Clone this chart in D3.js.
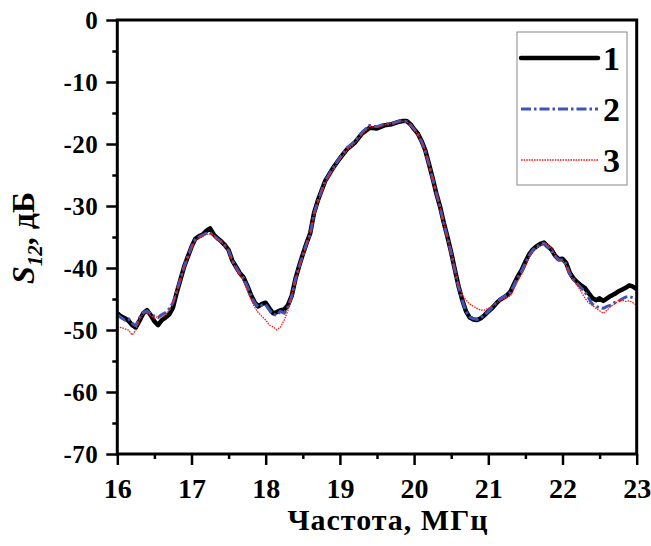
<!DOCTYPE html>
<html>
<head>
<meta charset="utf-8">
<script src="https://cdn.jsdelivr.net/npm/d3@7"></script>
<style>
  body { margin: 0; background: #fff; }
  text { font-family: "Palatino Linotype", "Book Antiqua", "Liberation Serif", serif; font-weight: bold; }
</style>
</head>
<body>
<div id="chart"></div>
<script>
var width = 651, height = 546;
var plotLeft = 117.3, plotRight = 636.7, plotTop = 20, plotBottom = 454;

// frequency grid, MHz
var freq = [16.00,16.05,16.10,16.15,16.20,16.25,16.30,16.35,16.40,16.45,16.50,16.55,16.60,16.65,16.70,16.75,16.80,16.85,16.90,16.95,
  17.00,17.05,17.10,17.15,17.20,17.25,17.30,17.35,17.40,17.45,17.50,17.55,17.60,17.65,17.70,17.75,17.80,17.85,17.90,17.95,
  18.00,18.05,18.10,18.15,18.20,18.25,18.30,18.35,18.40,18.45,18.50,18.55,18.60,18.65,18.70,18.80,18.90,19.00,19.10,19.20,
  19.30,19.40,19.50,19.60,19.70,19.80,19.85,19.90,19.95,20.00,20.05,20.10,20.15,20.20,20.25,20.30,20.35,20.40,20.45,20.50,
  20.55,20.60,20.65,20.70,20.75,20.80,20.85,20.90,20.95,21.00,21.05,21.10,21.15,21.20,21.25,21.30,21.35,21.40,21.45,21.50,
  21.55,21.60,21.65,21.70,21.75,21.80,21.85,21.90,21.95,22.00,22.05,22.10,22.15,22.20,22.25,22.30,22.35,22.40,22.45,22.50,
  22.55,22.60,22.65,22.70,22.75,22.80,22.85,22.90,22.95,23.00];

// S12, dB
var s1 = [-47.3,-47.8,-48.1,-48.5,-49.2,-49.6,-48.5,-47.3,-46.8,-47.6,-48.6,-49.2,-48.4,-48.0,-47.5,-46.4,-44.0,-41.9,-39.8,-38.2,
  -36.6,-35.3,-34.9,-34.6,-34.0,-33.6,-34.6,-35.2,-35.7,-36.3,-37.1,-38.8,-39.8,-40.8,-41.5,-42.8,-44.3,-45.5,-46.2,-45.8,
  -45.6,-46.5,-47.3,-47.1,-46.8,-46.7,-46.0,-44.5,-41.8,-39.7,-37.8,-36.0,-34.4,-31.2,-29.2,-26.0,-24.0,-22.3,-20.8,-19.8,
  -18.3,-17.4,-17.5,-17.0,-16.8,-16.4,-16.3,-16.3,-16.8,-17.6,-18.3,-19.5,-21.0,-23.2,-25.5,-28.0,-30.1,-32.7,-35.0,-37.5,
  -40.3,-43.0,-45.2,-47.0,-48.0,-48.3,-48.4,-48.1,-47.6,-47.0,-46.5,-45.8,-45.2,-44.8,-44.4,-43.8,-42.5,-41.3,-40.3,-39.0,
  -37.8,-37.0,-36.5,-36.1,-35.9,-36.5,-37.0,-38.0,-38.6,-38.5,-39.2,-40.8,-41.7,-42.3,-42.8,-43.2,-44.0,-44.8,-45.2,-44.9,
  -45.3,-44.9,-44.5,-44.2,-43.8,-43.5,-43.2,-42.8,-43.0,-43.4];

var s2 = [-47.5,-48.0,-48.4,-48.2,-48.9,-49.3,-48.0,-47.2,-46.9,-47.4,-47.8,-48.0,-47.5,-47.2,-46.6,-45.6,-43.8,-41.8,-39.8,-38.2,
  -36.6,-35.4,-35.0,-34.7,-34.4,-34.3,-34.8,-35.3,-35.8,-36.4,-37.2,-38.8,-39.9,-40.9,-41.6,-42.9,-44.4,-45.6,-46.3,-46.0,
  -45.9,-46.8,-47.5,-47.6,-47.0,-47.3,-46.3,-44.6,-41.9,-39.8,-37.9,-36.1,-34.5,-31.3,-29.3,-26.0,-24.0,-22.2,-20.6,-19.6,
  -18.1,-17.0,-17.2,-16.8,-16.7,-16.3,-16.3,-16.4,-16.9,-17.6,-18.4,-19.6,-21.1,-23.3,-25.6,-28.0,-30.2,-32.8,-35.1,-37.6,
  -40.4,-43.1,-45.3,-47.0,-47.9,-48.2,-48.3,-48.0,-47.6,-47.0,-46.4,-45.7,-45.1,-44.7,-44.4,-43.9,-42.7,-41.5,-40.5,-39.2,
  -38.0,-37.1,-36.6,-36.2,-36.0,-36.6,-37.2,-38.1,-38.7,-38.7,-39.4,-41.0,-41.9,-42.6,-43.2,-43.8,-44.8,-45.8,-46.2,-46.4,
  -46.5,-46.2,-46.0,-45.6,-45.4,-45.0,-44.7,-44.6,-44.8,-45.0];

var s3 = [-49.5,-49.6,-49.8,-50.0,-50.8,-50.0,-48.3,-47.3,-47.2,-47.7,-48.1,-47.8,-47.8,-47.6,-46.8,-45.5,-44.0,-42.0,-40.0,-38.4,
  -36.8,-35.5,-35.1,-34.8,-34.6,-34.5,-34.7,-35.3,-35.8,-36.4,-37.3,-38.9,-40.0,-41.0,-42.0,-43.5,-45.0,-46.3,-47.2,-47.8,
  -48.4,-49.2,-49.5,-50.0,-49.5,-48.4,-46.8,-44.5,-42.0,-40.0,-38.0,-36.2,-34.6,-31.5,-29.5,-26.3,-24.3,-22.5,-21.0,-19.9,
  -18.4,-17.2,-17.3,-16.9,-16.7,-16.4,-16.3,-16.4,-16.9,-17.6,-18.4,-19.6,-21.1,-23.3,-25.6,-28.0,-30.2,-32.8,-35.1,-37.6,
  -40.3,-42.8,-44.3,-45.2,-45.8,-46.2,-46.5,-46.8,-46.8,-46.5,-46.2,-45.6,-45.4,-45.0,-44.8,-44.5,-43.3,-42.0,-41.0,-39.8,
  -38.3,-37.4,-36.8,-36.4,-36.0,-36.2,-36.8,-37.8,-38.7,-38.8,-39.5,-41.0,-42.0,-42.8,-43.8,-44.8,-45.6,-46.0,-46.5,-46.9,
  -47.3,-46.8,-46.2,-45.8,-45.3,-45.2,-45.4,-45.3,-45.6,-46.0];

var xTicks = [16, 17, 18, 19, 20, 21, 22, 23];
var yTicks = [0, -10, -20, -30, -40, -50, -60, -70];
var legendLabels = ['1', '2', '3'];

var svg = d3.select('#chart')
    .append('svg')
    .attr('width', width + 'px')
    .attr('height', height + 'px');

var xScale = d3.scaleLinear().domain([16, 23]).range([plotLeft, plotRight]);
var yScale = d3.scaleLinear().domain([-70, 0]).range([plotBottom, plotTop]);

// curves
var series = [
    {values: s1, color: '#000', width: 4.5, dash: null},
    {values: s2, color: '#3d55b8', width: 3, dash: '10,3,2.5,3'},
    {values: s3, color: '#ff1a1a', width: 1.3, dash: '1.6,1'}
];

var line = d3.line()
    .x(function(d){ return xScale(d[0]); })
    .y(function(d){ return yScale(d[1]); });

series.forEach(function(s){
    svg.append('path')
        .datum(freq.map(function(f, i){ return [f, s.values[i]]; }))
        .attr('d', line)
        .attr('fill', 'none')
        .attr('stroke', s.color)
        .attr('stroke-width', s.width)
        .attr('stroke-linejoin', 'round')
        .attr('stroke-dasharray', s.dash);
});

// axes
var xAxis = d3.axisBottom(xScale).tickValues(xTicks).tickSize(11).tickPadding(12).tickFormat(d3.format('d'));
var yAxis = d3.axisLeft(yScale).tickValues(yTicks).tickSize(11).tickPadding(8).tickFormat(function(d){ return d === 0 ? '0' : '-' + Math.abs(d); });
var xMinor = d3.axisBottom(xScale).tickValues(d3.range(16.5, 23, 1)).tickSize(5).tickFormat('');
var yMinor = d3.axisLeft(yScale).tickValues(d3.range(-65, 0, 10)).tickSize(5).tickFormat('');

var gx = svg.append('g').attr('transform', 'translate(0,' + plotBottom + ')').call(xAxis);
svg.append('g').attr('transform', 'translate(0,' + plotBottom + ')').call(xMinor);
var gy = svg.append('g').attr('transform', 'translate(' + plotLeft + ',0)').call(yAxis);
svg.append('g').attr('transform', 'translate(' + plotLeft + ',0)').call(yMinor);

svg.selectAll('.domain').remove();
svg.selectAll('.tick line').attr('stroke', '#000').attr('stroke-width', 2.5);
gx.selectAll('text').attr('font-size', 28).attr('fill', '#000').attr('dy', '0.75em');
gy.selectAll('text').attr('font-size', 25).attr('fill', '#000').attr('letter-spacing', 0.5);

// frame
svg.append('rect')
    .attr('x', plotLeft).attr('y', plotTop)
    .attr('width', plotRight - plotLeft).attr('height', plotBottom - plotTop)
    .attr('fill', 'none').attr('stroke', '#000').attr('stroke-width', 3);

// legend
var legend = svg.append('g');
legend.append('rect')
    .attr('x', 517).attr('y', 32).attr('width', 110).attr('height', 153)
    .attr('fill', '#fff').attr('stroke', '#888').attr('stroke-width', 1);
legendLabels.forEach(function(lab, i){
    var ly = 58 + i * 51;
    legend.append('line')
        .attr('x1', 521).attr('x2', 598).attr('y1', ly).attr('y2', ly)
        .attr('stroke', series[i].color)
        .attr('stroke-width', series[i].width)
        .attr('stroke-linecap', i === 0 ? 'round' : 'butt')
        .attr('stroke-dasharray', series[i].dash);
    legend.append('text')
        .attr('x', 603).attr('y', ly + 12)
        .attr('font-size', 34).attr('fill', '#000')
        .text(lab);
});

// axis titles
svg.append('text')
    .attr('x', 388).attr('y', 530)
    .attr('text-anchor', 'middle')
    .attr('font-size', 30).attr('letter-spacing', 1)
    .attr('fill', '#000')
    .text('Частота, МГц');

var yt = svg.append('text')
    .attr('transform', 'translate(34,238) rotate(-90)')
    .attr('text-anchor', 'middle')
    .attr('font-size', 32).attr('fill', '#000');
yt.append('tspan').attr('font-style', 'italic').text('S');
yt.append('tspan').attr('font-style', 'italic').attr('font-size', 21).attr('dy', 8).text('12');
yt.append('tspan').attr('dy', -8).text(', дБ');
</script>
</body>
</html>
